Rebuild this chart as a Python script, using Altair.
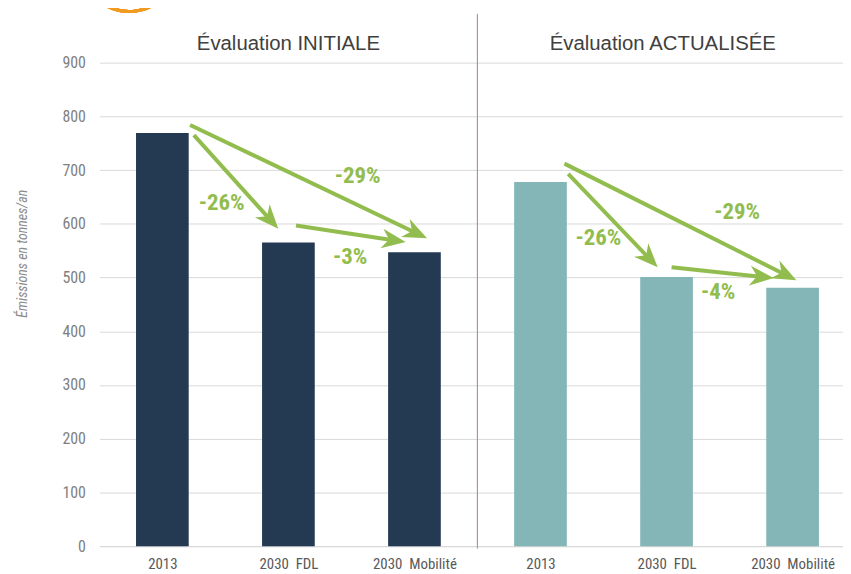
import math
import altair as alt
import pandas as pd

# ---------------- data ----------------
x_labels = ["2013", "2030\u00a0\u00a0FDL", "2030\u00a0\u00a0Mobilité",
            "2013", "2030\u00a0\u00a0FDL", "2030\u00a0\u00a0Mobilité"]
bar_index = [0, 1, 2, 3, 4, 5]
bar_group = ["INITIALE", "INITIALE", "INITIALE", "ACTUALISÉE", "ACTUALISÉE", "ACTUALISÉE"]
bar_values = [769, 565, 547, 678, 501, 481]

panel_titles = ["Évaluation INITIALE", "Évaluation ACTUALISÉE"]
panel_title_x = [1.0, 3.97]

# arrows (data units: bar index, tonnes/an)
arrow_x0 = [0.22, 0.25, 1.06, 3.19, 3.22, 4.04]
arrow_y0 = [784, 765, 597, 712, 693, 519]
arrow_x1 = [2.10, 0.92, 1.93, 5.03, 3.93, 4.85]
arrow_y1 = [573, 591, 566, 495, 519, 499]

pct_labels = ["-29%", "-26%", "-3%", "-29%", "-26%", "-4%"]
pct_x = [1.55, 0.47, 1.49, 4.56, 3.46, 4.41]
pct_y = [689, 639, 538, 621, 573, 473]

# ---------------- layout / style ----------------
W, H = 749, 487
X_DOM = [-0.5, 5.4]
Y_DOM = [0, 900]
kx = W / (X_DOM[1] - X_DOM[0])
ky = H / (Y_DOM[1] - Y_DOM[0])
HALF_BAR = 0.209
HEAD_S = 10.5  # arrowhead scale (px per path unit)

NARROW = "Liberation Sans Narrow, Arial Narrow, Roboto Condensed, Liberation Sans, sans-serif"
REGULAR = "Liberation Sans, Arial, sans-serif"
GREEN = "#92bd4e"

xs = alt.Scale(domain=X_DOM, nice=False, zero=False)
ys = alt.Scale(domain=Y_DOM, nice=False)

bars_df = pd.DataFrame({"i": bar_index, "g": bar_group, "v": bar_values})

# arrow geometry
rows = []
for x0, y0, x1, y1 in zip(arrow_x0, arrow_y0, arrow_x1, arrow_y1):
    dxp = (x1 - x0) * kx
    dyp = -(y1 - y0) * ky
    L = math.hypot(dxp, dyp)
    ang = math.degrees(math.atan2(dxp, -dyp)) % 360
    back = 1.5 * HEAD_S
    xe = x1 - back * dxp / L / kx
    ye = y1 + back * dyp / L / ky
    rows.append({"x0": x0, "y0": y0, "xe": xe, "ye": ye, "x1": x1, "y1": y1, "ang": ang})
arr_df = pd.DataFrame(rows)

pct_df = pd.DataFrame({"t": pct_labels, "x": pct_x, "y": pct_y})
title_df = pd.DataFrame({"t": panel_titles, "x": panel_title_x})

label_expr = "[" + ",".join("'" + s + "'" for s in x_labels) + "][datum.value]"

bars = alt.Chart(bars_df).transform_calculate(
    xl=f"datum.i - {HALF_BAR}", xr=f"datum.i + {HALF_BAR}", z="0"
).mark_rect().encode(
    x=alt.X("xl:Q", scale=xs, axis=alt.Axis(
        values=bar_index, labelExpr=label_expr, grid=False, ticks=False,
        domain=True, domainColor="#d9d9d9", domainWidth=1, labelPadding=10,
        labelFontSize=15, labelColor="#595959", labelFont=NARROW, title=None,
        labelFlush=False)),
    x2="xr:Q",
    y=alt.Y("v:Q", scale=ys, axis=alt.Axis(
        values=list(range(0, 1000, 100)), grid=True, gridColor="#d9d9d9",
        domain=False, ticks=False, labelPadding=14, labelFontSize=16,
        labelColor="#7f7f7f", labelFont=NARROW,
        title="Émissions en tonnes/an", titleFont=NARROW, titleFontStyle="italic",
        titleFontWeight="normal", titleFontSize=14, titleColor="#8a8a8a",
        titleX=-70, titleY=192)),
    y2="z:Q",
    color=alt.Color("g:N", scale=alt.Scale(domain=["INITIALE", "ACTUALISÉE"],
                                           range=["#243a52", "#84b6b8"]), legend=None),
)

divider = alt.Chart(bars_df).mark_rule(color="#a39c92", strokeWidth=1).encode(
    x=alt.datum(2.5, scale=xs), y=alt.value(-49), y2=alt.value(489)
)

titles = alt.Chart(title_df).mark_text(
    font=REGULAR, fontSize=20.5, color="#404040", baseline="middle"
).encode(x=alt.X("x:Q", scale=xs), y=alt.value(-19), text="t:N")

shafts = alt.Chart(arr_df).mark_rule(color=GREEN, strokeWidth=4, strokeCap="butt").encode(
    x=alt.X("x0:Q", scale=xs), y=alt.Y("y0:Q", scale=ys), x2="xe:Q", y2="ye:Q"
)

heads = alt.Chart(arr_df).mark_point(
    shape="M0,0L-0.95,2.3L0,1.6L0.95,2.3Z", filled=True, opacity=1, color=GREEN,
    size=(2 * HEAD_S) ** 2, strokeWidth=0
).encode(x=alt.X("x1:Q", scale=xs), y=alt.Y("y1:Q", scale=ys),
         angle=alt.Angle("ang:Q", scale=None))

pcts = alt.Chart(pct_df).mark_text(
    font=NARROW, fontSize=23, fontWeight="bold", color=GREEN, baseline="middle"
).encode(x=alt.X("x:Q", scale=xs), y=alt.Y("y:Q", scale=ys), text="t:N")

logo1 = alt.Chart(bars_df).mark_arc(
    theta=2.54, theta2=3.61, radius=47, radius2=50, color="#f39a1e"
).encode(x=alt.value(30), y=alt.value(-100))
logo2 = alt.Chart(bars_df).mark_arc(
    theta=2.75, theta2=3.05, radius=41, radius2=45, color="#9cc33f"
).encode(x=alt.value(30), y=alt.value(-100))

chart = alt.layer(bars, divider, titles, shafts, heads, pcts, logo1, logo2).properties(
    width=W, height=H,
    padding={"left": 92, "top": 53, "right": 0, "bottom": 26},
    autosize=alt.AutoSizeParams(type="none"),
    background="white",
).configure_view(stroke=None)

chart.save("out.html", embed_options={"renderer": "svg", "actions": False})
